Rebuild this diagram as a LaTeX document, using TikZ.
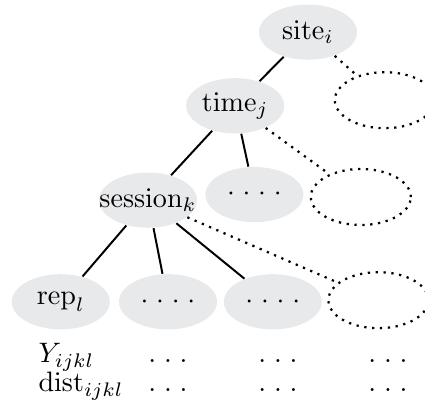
\documentclass[tikz,border=0pt]{standalone}
\usepackage{tikz}
\usetikzlibrary{shapes, shapes.geometric}
\usepackage{amsmath,amssymb}
\usepackage{color}

\definecolor{blobgrey}{RGB}{232,233,235}
\tikzset{
    blob/.style={ellipse, fill=blobgrey, inner xsep=-0.6cm, inner ysep=-0.3cm, minimum width=1.225cm, minimum height=0.69cm},
    ghost/.style={ellipse, draw, dotted, line width=0.8pt, inner sep=0pt, minimum width=1.25cm, minimum height=0.7cm},
    edge/.style={line width=0.7pt},
    ghostedge/.style={dotted, line width=0.8pt}
}
\newcommand{\fourdots}{${\cdot}\;{\cdot}\;{\cdot}\;{\cdot}$}
\newcommand{\threedots}{$.\;.\;.$}

\begin{document}
\begin{tikzpicture}
            \useasboundingbox (0, 0) rectangle (5.3125, 5.0625);
            \node[blob] (n0) at (3.85, 4.66) {$\mathrm{site}_i$};
            \node[blob] (n1) at (2.94, 3.74) {$\mathrm{time}_j$};
            \node[ghost] (n2) at (4.81, 3.81) {};
            \node[blob] (n3) at (1.85, 2.56) {$\mathrm{session}_k$};
            \node[blob] (n4) at (3.18, 2.63) {\fourdots};
            \node[ghost] (n5) at (4.51, 2.60) {};
            \node[blob] (n6) at (0.76, 1.29) {$\mathrm{rep}_l$};
            \node[blob] (n7) at (2.10, 1.29) {\fourdots};
            \node[blob] (n8) at (3.41, 1.29) {\fourdots};
            \node[ghost] (n9) at (4.73, 1.31) {};

            % values under the leaves
            \node[anchor=base west, inner sep=0pt] (y0) at (0.475, 0.525) {$Y_{ijkl}$};
            \node[anchor=base west, inner sep=0pt] (d0) at (0.475, 0.1625) {$\mathrm{dist}_{ijkl}$};
            \foreach \x/\i in {2.10/1, 3.475/2, 4.85/3} {
                \node[anchor=base, inner sep=0pt] (y\i) at (\x, 0.525) {\threedots};
                \node[anchor=base, inner sep=0pt] (d\i) at (\x, 0.1625) {\threedots};
            }

            \draw[edge] (n0) -- (n1);
            \draw[edge] (n1) -- (n3);
            \draw[edge] (n1) -- (n4);
            \draw[edge] (n3) -- (n6);
            \draw[edge] (n3) -- (n7);
            \draw[edge] (n3) -- (n8);
            \draw[ghostedge] (n0) -- (n2);
            \draw[ghostedge] (n1) -- (n5);
            \draw[ghostedge] (n3) -- (n9);
    	\end{tikzpicture}
\end{document}
